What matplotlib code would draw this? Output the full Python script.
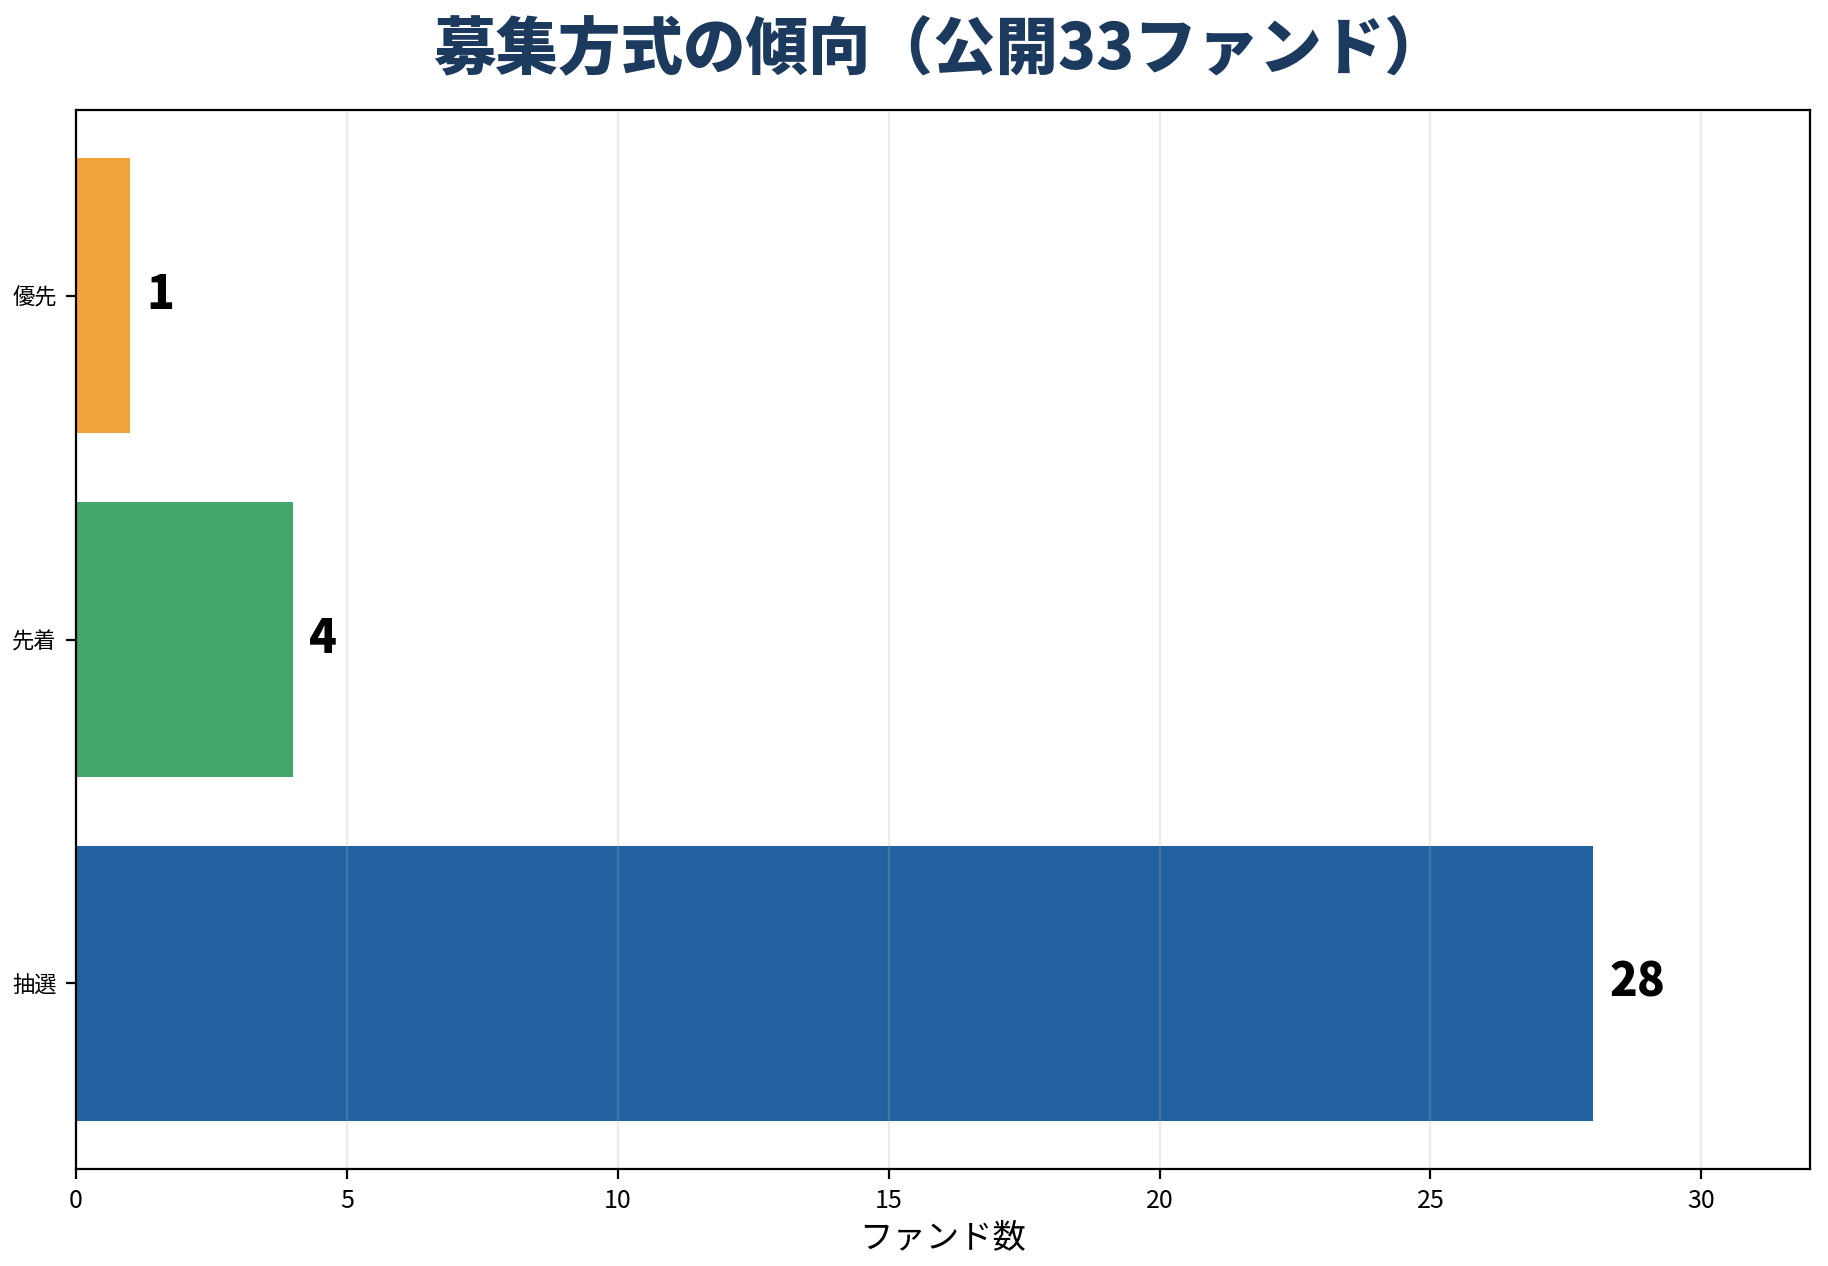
import matplotlib

matplotlib.use("Agg")
import matplotlib.pyplot as plt

plt.rcParams["font.family"] = ["Noto Sans CJK JP", "DejaVu Sans"]

methods = ["抽選", "先着", "優先"]
counts = [28, 4, 1]
colors = ["#2161a0", "#43a66b", "#f2a43a"]
title = "募集方式の傾向（公開33ファンド）"
xlabel = "ファンド数"

fig, ax = plt.subplots(figsize=(9.14, 6.33), dpi=200)
fig.subplots_adjust(left=0.0416, right=0.990, top=0.913, bottom=0.0766)

ax.barh(methods, counts, height=0.8, color=colors)
for i, v in enumerate(counts):
    ax.text(v + 0.3, i, str(v), va="center", ha="left", fontsize=16.5, fontweight="heavy")

ax.set_xlim(0, 32)
ax.set_xlabel(xlabel, fontsize=12, labelpad=2)
ax.tick_params(axis="x", labelsize=9)
ax.tick_params(axis="y", labelsize=8)
ax.grid(axis="x", alpha=0.25)
fig.suptitle(title, fontsize=22.5, fontweight="heavy", color="#1b3a5e", x=0.514, y=0.985)

fig.savefig("out.png", dpi=200)
